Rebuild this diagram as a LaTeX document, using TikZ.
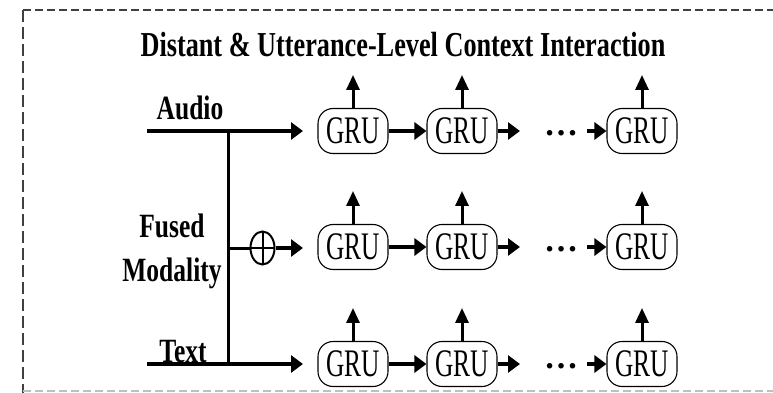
\documentclass[tikz,border=0pt]{standalone}
\usepackage{fontspec}
\setmainfont{Liberation Serif}[FakeStretch=0.65, BoldFeatures={FakeStretch=0.75}]
\newfontfamily\dotsfont{Liberation Serif}
\usetikzlibrary{arrows.meta,shapes.geometric,calc}

\tikzset{
  grubox/.style={draw, line width=1.1pt, rounded corners=15pt, minimum width=70pt,
    minimum height=45pt, inner sep=0pt, font=\fontsize{39}{40}\selectfont},
  lbl/.style={anchor=base, font=\bfseries\fontsize{34}{36}\selectfont, inner sep=0pt},
  harrow/.style={line width=3.2pt, -{Triangle[length=12pt,width=17pt]}},
  varrow/.style={line width=3pt, -{Triangle[length=15pt,width=13pt]}},
  wire/.style={line width=3pt},
  frame/.style={line width=1.4pt, color=black!75},
  ellipsis/.style={inner sep=0pt, font=\dotsfont\bfseries\fontsize{34}{36}\selectfont},
}

\begin{document}
\begin{tikzpicture}[x=1pt,y=-1pt]
\useasboundingbox (0,0) rectangle (773,393);

% dashed frame
\draw[frame, dash pattern=on 8pt off 4pt] (23,10) -- (773,10);
\draw[frame, dash pattern=on 12pt off 5pt] (23,10) -- (23,393);
\draw[frame, color=black!25, dash pattern=on 8pt off 4pt] (23,391) -- (773,391);

% title and input labels
\node[anchor=base, font=\bfseries\fontsize{35}{40}\selectfont, inner sep=0pt] (title) at (403,57)
  {Distant \& Utterance-Level Context Interaction};
\node[lbl] (laudio) at (190,120) {Audio};
\node[lbl] (lfused) at (172,237) {Fused};
\node[lbl] (lmod) at (172,281) {Modality};
\node[lbl] (ltext) at (183,362) {Text};

% GRU chains
\foreach \r/\y in {1/131, 2/247, 3/364} {
  \node[grubox] (g\r a) at (353,\y) {GRU};
  \node[grubox] (g\r b) at (462,\y) {GRU};
  \node[grubox] (g\r c) at (642,\y) {GRU};
  \node[ellipsis] (dots\r) at (561,\y+2) {…};
  \coordinate (out\r) at (520,\y);
  \coordinate (in\r) at (587,\y);
  \draw[harrow] (g\r a.east) -- (g\r b.west);
  \draw[harrow] (g\r b.east) -- (out\r);
  \draw[harrow] (in\r) -- (g\r c.west);
  \foreach \c in {a,b,c}
    \draw[varrow] (g\r\c.north) -- ++(0,-33);
}

% input lines
\coordinate (astart) at (147,131);
\coordinate (aend) at (303,131);
\coordinate (tstart) at (147,364);
\coordinate (tend) at (303,364);
\coordinate (vtop) at (228,131);
\coordinate (vbot) at (228,364);
\coordinate (fjoin) at (228,248);
\coordinate (fend) at (303,248);

\draw[harrow] (astart) -- (aend);
\draw[harrow] (tstart) -- (tend);
\draw[wire] (vtop) -- (vbot);

% fusion by addition
\node[draw, ellipse, line width=2pt, minimum width=24pt, minimum height=33pt, inner sep=0pt,
  path picture={\draw[line width=2pt]
    (path picture bounding box.north) -- (path picture bounding box.south)
    (path picture bounding box.west) -- (path picture bounding box.east);}]
  (plus) at (262.5,248) {};
\draw[wire] (fjoin) -- (plus.west);
\draw[harrow] (plus.east) -- (fend);

\end{tikzpicture}
\end{document}
